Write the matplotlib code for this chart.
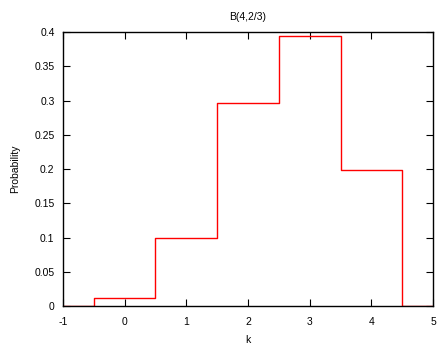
import matplotlib.pyplot as plt
import numpy as np

plt.rcParams['font.family'] = ['Liberation Sans', 'DejaVu Sans']
plt.rcParams['axes.unicode_minus'] = False

# B(4, 2/3) probabilities
k = [0, 1, 2, 3, 4]
prob = [0.012, 0.099, 0.296, 0.395, 0.198]

# step outline: flat zero on either side of the bars
edges = [-1, -0.5] + [v + 0.5 for v in k] + [5]
heights = [0] + prob + [0, 0]

fig = plt.figure(figsize=(4.37, 3.45), dpi=100)
ax = fig.add_axes([0.144, 0.113, 0.847, 0.794])
ax.step(edges, heights, where='post', color='red', linewidth=1)

ax.set_xlim(-1, 5)
ax.set_ylim(0, 0.4)
ax.set_xticks(np.arange(-1, 6, 1))
ax.set_yticks(np.arange(0, 0.41, 0.05))
ax.set_yticklabels(['0', '0.05', '0.1', '0.15', '0.2', '0.25', '0.3', '0.35', '0.4'])
ax.tick_params(direction='in', length=5, width=0.8, top=True, right=True,
               labelsize=7.5)
ax.tick_params(axis='x', pad=8)
ax.tick_params(axis='y', pad=6)
for s in ax.spines.values():
    s.set_linewidth(1)

ax.set_title('B(4,2/3)', fontsize=7.5, pad=9)
ax.set_xlabel('k', fontsize=7.5, labelpad=5.5)
ax.set_ylabel('Probability', fontsize=7.5, labelpad=10)

fig.savefig('out.png', dpi=100)
